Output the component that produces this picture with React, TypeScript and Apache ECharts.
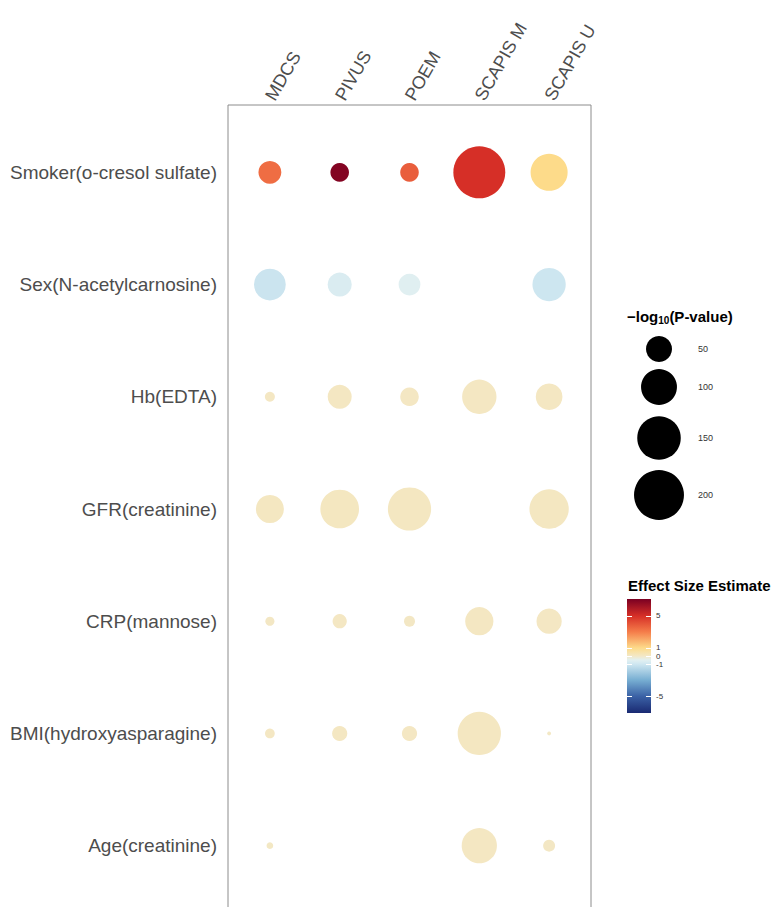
import { useEffect, useRef } from "react";
import * as echarts from "echarts";

// Cohorts (columns) and trait/metabolite pairs (rows, top to bottom)
const cohorts = ["MDCS", "PIVUS", "POEM", "SCAPIS M", "SCAPIS U"];
const traits = [
  "Smoker(o-cresol sulfate)",
  "Sex(N-acetylcarnosine)",
  "Hb(EDTA)",
  "GFR(creatinine)",
  "CRP(mannose)",
  "BMI(hydroxyasparagine)",
  "Age(creatinine)",
];

// -log10(P-value) per cohort, one entry per trait row (null = not tested)
const mdcsLogP = [38, 77, 5.6, 59, 4.3, 5.2, 1.9];
const pivusLogP = [24, 42, 42, 117, 13, 15, null];
const poemLogP = [24, 34, 24, 148, 7, 15, null];
const scapisMLogP = [217, null, 91, null, 60, 148, 96];
const scapisULogP = [107, 85, 53, 121, 47, 0.3, 8.7];

// Effect size estimates per cohort
const mdcsEffect = [3.4, -1.1, 0.05, 0.08, 0.04, 0.05, 0.03];
const pivusEffect = [6.9, -0.7, 0.06, 0.1, 0.05, 0.06, null];
const poemEffect = [3.8, -0.55, 0.05, 0.09, 0.04, 0.05, null];
const scapisMEffect = [5.0, null, 0.07, null, 0.06, 0.08, 0.07];
const scapisUEffect = [1.0, -1.05, 0.06, 0.08, 0.05, 0.02, 0.04];

const logPByCohort = [mdcsLogP, pivusLogP, poemLogP, scapisMLogP, scapisULogP];
const effectByCohort = [mdcsEffect, pivusEffect, poemEffect, scapisMEffect, scapisUEffect];

// Legend breaks
const sizeBreaks = [50, 100, 150, 200];
const colorTicks = [5, 1, 0, -1, -5];

// Diverging palette for the effect size (value, colour)
const colorStops: [number, string][] = [
  [-7.1, "#1A2A72"],
  [-5, "#3B62A6"],
  [-3, "#77AED2"],
  [-1, "#CFE7F1"],
  [-0.5, "#E2F0F1"],
  [0, "#F3E8C6"],
  [1, "#FDDB8A"],
  [3, "#F57D4A"],
  [5, "#D62F27"],
  [7.1, "#7A0022"],
];
const EFFECT_MIN = -7.1;
const EFFECT_MAX = 7.1;

const FONT = "'Liberation Sans', Arial, sans-serif";

function hexToRgb(h: string) {
  const n = parseInt(h.slice(1), 16);
  return [(n >> 16) & 255, (n >> 8) & 255, n & 255];
}

function colorFor(v: number) {
  const x = Math.max(EFFECT_MIN, Math.min(EFFECT_MAX, v));
  for (let i = 0; i < colorStops.length - 1; i++) {
    const [v0, c0] = colorStops[i];
    const [v1, c1] = colorStops[i + 1];
    if (x >= v0 && x <= v1) {
      const t = (x - v0) / (v1 - v0);
      const a = hexToRgb(c0);
      const b = hexToRgb(c1);
      const m = a.map((ch, k) => Math.round(ch + (b[k] - ch) * t));
      return `rgb(${m[0]},${m[1]},${m[2]})`;
    }
  }
  return colorStops[colorStops.length - 1][1];
}

// Point diameter grows with the square root of -log10(P)
function sizeFor(p: number) {
  return 2 + 3.39 * Math.sqrt(Math.max(0, p));
}

export default function App() {
  const ref = useRef<HTMLDivElement>(null);

  useEffect(() => {
    if (!ref.current) return;
    const chart = echarts.init(ref.current, undefined, { renderer: "svg" });

    const points: any[] = [];
    cohorts.forEach((_, ci) => {
      traits.forEach((__, ri) => {
        const p = logPByCohort[ci][ri];
        const e = effectByCohort[ci][ri];
        if (p == null || e == null) return;
        points.push({ value: [ci, ri, p, e], itemStyle: { color: colorFor(e) } });
      });
    });

    // Size legend layout
    const sizeLegendX = 659;
    const sizeLegendY = [349, 387, 438, 495];
    const sizeLegend: any[] = [];
    sizeBreaks.forEach((b, i) => {
      sizeLegend.push({
        type: "circle",
        shape: { cx: sizeLegendX, cy: sizeLegendY[i], r: sizeFor(b) / 2 },
        style: { fill: "#000" },
      });
      sizeLegend.push({
        type: "text",
        x: 698,
        y: sizeLegendY[i],
        style: {
          text: String(b),
          fill: "#333",
          font: `9px ${FONT}`,
          verticalAlign: "middle",
          align: "left",
        },
      });
    });

    // Colour bar layout
    const cbX = 627;
    const cbW = 24;
    const cbTop = 599;
    const cbH = 114;
    const yForEffect = (v: number) =>
      cbTop + ((EFFECT_MAX - v) / (EFFECT_MAX - EFFECT_MIN)) * cbH;
    const colorBar: any[] = [
      {
        type: "rect",
        shape: { x: cbX, y: cbTop, width: cbW, height: cbH },
        style: {
          fill: new echarts.graphic.LinearGradient(
            0,
            0,
            0,
            1,
            colorStops
              .slice()
              .reverse()
              .map(([v, c]) => ({
                offset: (EFFECT_MAX - v) / (EFFECT_MAX - EFFECT_MIN),
                color: c,
              }))
          ),
        },
      },
    ];
    colorTicks.forEach((t) => {
      const y = Math.round(yForEffect(t)) + 0.5;
      colorBar.push({
        type: "line",
        shape: { x1: cbX, y1: y, x2: cbX + 5, y2: y },
        style: { stroke: "#fff", lineWidth: 1 },
      });
      colorBar.push({
        type: "line",
        shape: { x1: cbX + cbW - 5, y1: y, x2: cbX + cbW, y2: y },
        style: { stroke: "#fff", lineWidth: 1 },
      });
      colorBar.push({
        type: "text",
        x: 656,
        y: yForEffect(t),
        style: {
          text: String(t),
          fill: "#333",
          fontSize: 8,
          fontFamily: FONT,
          lineHeight: 7,
          verticalAlign: "middle",
          align: "left",
        },
      });
    });

    chart.setOption({
      animation: false,
      backgroundColor: "#fff",
      textStyle: { fontFamily: FONT },
      grid: {
        left: 228,
        right: 180,
        top: 105,
        height: 808,
        outerBoundsMode: "none",
        containLabel: false,
        show: true,
        backgroundColor: "#fff",
        borderColor: "#8C8C8C",
        borderWidth: 1,
      },
      xAxis: {
        type: "value",
        position: "top",
        min: -0.6,
        max: 4.6,
        axisLine: { show: false },
        axisTick: { show: false },
        splitLine: { show: false },
        axisLabel: {
          customValues: [0, 1, 2, 3, 4],
          formatter: (v: number) => cohorts[Math.round(v)] ?? "",
          rotate: 60,
          fontSize: 18,
          color: "#4D4D4D",
          margin: 6,
          fontFamily: FONT,
        },
      },
      yAxis: {
        type: "value",
        inverse: true,
        min: -0.6,
        max: 6.6,
        axisLine: { show: false },
        axisTick: { show: false },
        splitLine: { show: false },
        axisLabel: {
          customValues: [0, 1, 2, 3, 4, 5, 6],
          formatter: (v: number) => traits[Math.round(v)] ?? "",
          fontSize: 19,
          color: "#4D4D4D",
          margin: 11,
          fontFamily: FONT,
        },
      },
      series: [
        {
          type: "scatter",
          data: points,
          symbol: "circle",
          symbolSize: (val: number[]) => sizeFor(val[2]),
          itemStyle: { opacity: 1 },
          emphasis: { disabled: true },
        },
      ],
      graphic: [
        {
          type: "text",
          x: 627,
          y: 316,
          style: {
            text: "{t|\u2212log}{s|10}{t|(P-value)}",
            fill: "#000",
            verticalAlign: "middle",
            rich: {
              t: { fontSize: 15, fontWeight: "bold", fontFamily: FONT, lineHeight: 19, fill: "#000" },
              s: { fontSize: 10, fontWeight: "bold", fontFamily: FONT, lineHeight: 10, verticalAlign: "bottom", fill: "#000" },
            },
          },
        },
        ...sizeLegend,
        {
          type: "text",
          x: 628,
          y: 585,
          style: {
            text: "Effect Size Estimate",
            fill: "#000",
            font: `bold 15px ${FONT}`,
            verticalAlign: "middle",
          },
        },
        ...colorBar,
      ],
    });

    return () => chart.dispose();
  }, []);

  return (
    <div
      ref={ref}
      style={{ position: "fixed", left: 0, top: 0, width: 771, height: 907 }}
    />
  );
}
